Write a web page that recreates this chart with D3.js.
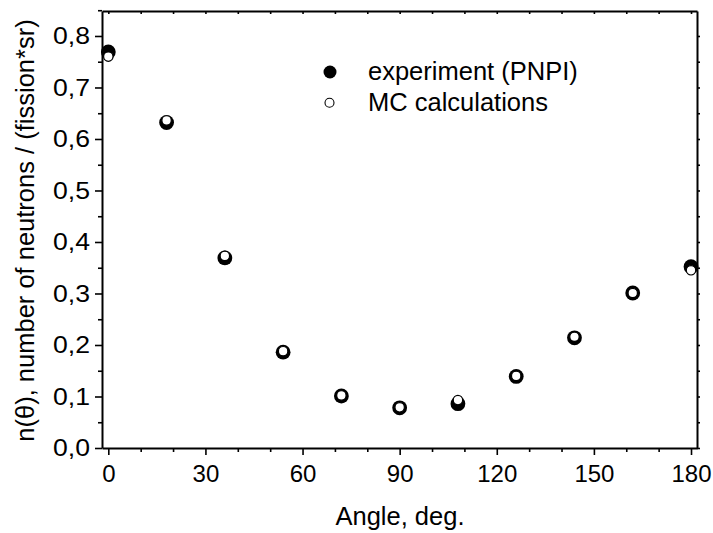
<!DOCTYPE html>
<html><head><meta charset="utf-8">
<script src="https://cdn.jsdelivr.net/npm/d3@7"></script>
<style>body{margin:0;background:#fff}svg{display:block}text{font-family:"Liberation Sans",Arial,sans-serif;fill:#000}</style>
</head><body><svg id="c" width="713" height="533"></svg>
<script>
const angles = [0, 18, 36, 54, 72, 90, 108, 126, 144, 162, 180];
const experiment = [0.769, 0.632, 0.369, 0.186, 0.101, 0.078, 0.086, 0.139, 0.214, 0.301, 0.352];
const mcCalc = [0.760, 0.636, 0.373, 0.188, 0.102, 0.079, 0.093, 0.140, 0.216, 0.301, 0.345];
const xTicks = [0, 30, 60, 90, 120, 150, 180];
const yTicks = [0, 0.1, 0.2, 0.3, 0.4, 0.5, 0.6, 0.7, 0.8];
const legendLabels = ["experiment (PNPI)", "MC calculations"];

const svg = d3.select("#c");
const L = 102, R = 697, T = 11, B = 448;
const x = d3.scaleLinear().domain([-1.95, 181.85]).range([L, R]);
const y = d3.scaleLinear().domain([0, 0.8485]).range([B, T]);
const fmt = d => d3.format(".1f")(d).replace(".", ",");
const FONT = "Liberation Sans, Arial, sans-serif";

// bottom axis
svg.append("g").attr("transform", `translate(0,${B})`)
  .call(d3.axisBottom(x).tickValues(xTicks).tickSize(7).tickSizeOuter(0).tickPadding(10).tickFormat(d3.format("d")));
svg.append("g").attr("transform", `translate(0,${B})`)
  .call(d3.axisBottom(x).tickValues(d3.range(10, 180, 10).filter(v => v % 30)).tickSize(4).tickSizeOuter(0).tickFormat(""))
  .select(".domain").remove();
// top axis
svg.append("g").attr("transform", `translate(0,${T})`)
  .call(d3.axisBottom(x).tickValues(d3.range(0, 181, 10)).tickSize(3).tickSizeOuter(0).tickFormat(""));
// left axis
const gy = svg.append("g").attr("transform", `translate(${L},0)`)
  .call(d3.axisLeft(y).tickValues(yTicks).tickSize(7).tickSizeOuter(0).tickPadding(5).tickFormat(fmt));
svg.append("g").attr("transform", `translate(${L},0)`)
  .call(d3.axisLeft(y).tickValues(yTicks.map(v => v + 0.05)).tickSize(4).tickSizeOuter(0).tickFormat(""))
  .select(".domain").remove();
// right axis
svg.append("g").attr("transform", `translate(${R},0)`)
  .call(d3.axisRight(y).tickValues(d3.range(0, 17).map(i => i * 0.05)).tickSize(3).tickSizeOuter(0).tickFormat(""));

svg.selectAll(".domain").attr("stroke", "#000").attr("stroke-width", 2);
svg.selectAll(".tick line").attr("stroke", "#000").attr("stroke-width", 1.6);
svg.selectAll(".tick text").style("font-size", "24px").style("font-family", FONT).attr("fill", "#000");
gy.selectAll(".tick text").attr("textLength", 37).attr("lengthAdjust", "spacingAndGlyphs");

// axis titles
svg.append("text").attr("x", 400).attr("y", 525).attr("text-anchor", "middle")
  .style("font-size", "25.5px").text("Angle, deg.");
svg.append("text").attr("transform", `translate(34,${(T + B) / 2 + 1}) rotate(-90)`).attr("text-anchor", "middle")
  .style("font-size", "25.5px").text("n(θ), number of neutrons / (fission*sr)");

// data
const data = angles.map((a, i) => ({a, e: experiment[i], m: mcCalc[i]}));
svg.append("g").selectAll("circle").data(data).join("circle")
  .attr("cx", d => x(d.a)).attr("cy", d => y(d.e)).attr("r", 7.4).attr("fill", "#000");
svg.append("g").selectAll("circle").data(data).join("circle")
  .attr("cx", d => x(d.a)).attr("cy", d => y(d.m)).attr("r", 4.7)
  .attr("fill", "#fff").attr("stroke", "#000").attr("stroke-width", 1.2);

// legend
const lg = svg.append("g");
lg.append("circle").attr("cx", 330).attr("cy", 72).attr("r", 6.5).attr("fill", "#000");
lg.append("circle").attr("cx", 329.5).attr("cy", 102.7).attr("r", 4.5).attr("fill", "#fff").attr("stroke", "#000").attr("stroke-width", 1.1);
lg.append("text").attr("x", 368).attr("y", 80).style("font-size", "25.5px").text(legendLabels[0]);
lg.append("text").attr("x", 368).attr("y", 111).style("font-size", "25.5px").text(legendLabels[1]);
</script></body></html>
